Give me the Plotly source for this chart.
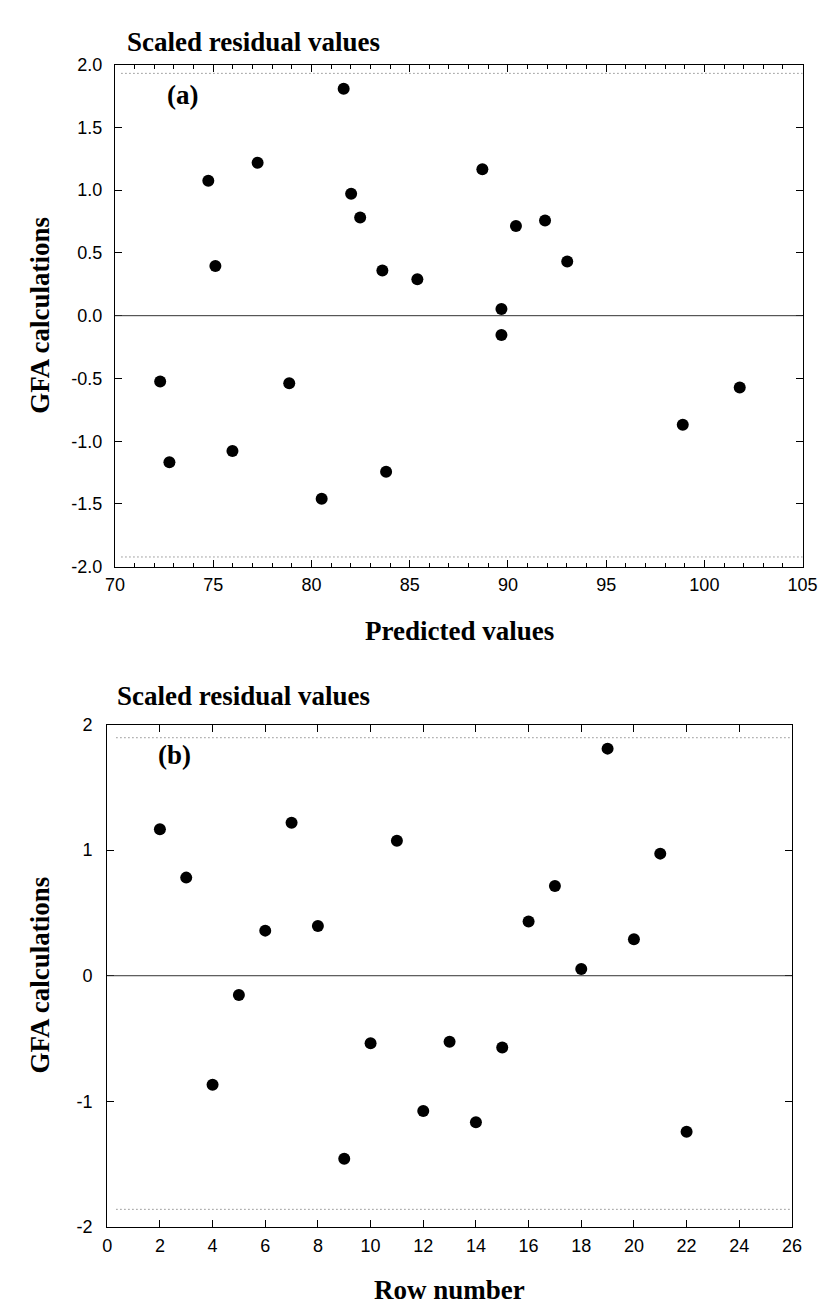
import plotly.graph_objects as go

# ---------------- data ----------------
# Panel (a): scaled residuals vs predicted values
pred_a = [88.70, 82.48, 98.90, 89.67, 83.61, 77.26, 75.11, 80.52, 78.87, 74.75, 75.98,
          72.30, 72.77, 101.80, 93.02, 90.41, 89.67, 81.64, 85.39, 82.02, 83.80, 91.89]
resid_a = [1.167, 0.781, -0.869, -0.153, 0.359, 1.218, 0.396, -1.458, -0.538, 1.074, -1.078,
           -0.525, -1.167, -0.572, 0.431, 0.715, 0.054, 1.808, 0.291, 0.972, -1.243, 0.758]

# Panel (b): scaled residuals vs row number
row_b = [2, 3, 4, 5, 6, 7, 8, 9, 10, 11, 12, 13, 14, 15, 16, 17, 18, 19, 20, 21, 22]
resid_b = [1.167, 0.781, -0.869, -0.153, 0.359, 1.218, 0.396, -1.458, -0.538, 1.074, -1.078,
           -0.525, -1.167, -0.572, 0.431, 0.715, 0.054, 1.808, 0.291, 0.972, -1.243]

# reference (dotted) limits
limits_a = [1.93, -1.922]
limits_b = [1.895, -1.86]

# tick labels
xticks_a = [70, 75, 80, 85, 90, 95, 100, 105]
yticks_a = [-2.0, -1.5, -1.0, -0.5, 0.0, 0.5, 1.0, 1.5, 2.0]
yticktext_a = ["-2.0", "-1.5", "-1.0", "-0.5", "0.0", "0.5", "1.0", "1.5", "2.0"]
xticks_b = [0, 2, 4, 6, 8, 10, 12, 14, 16, 18, 20, 22, 24, 26]
yticks_b = [-2, -1, 0, 1, 2]
yticktext_b = ["-2", "-1", "0", "1", "2"]

W, H = 829, 1307
SERIF = "Liberation Serif, Times New Roman, serif"
SANS = "Liberation Sans, Arial, sans-serif"

fig = go.Figure()
marker = dict(color="black", size=12, line=dict(width=0))
fig.add_trace(go.Scatter(x=pred_a, y=resid_a, mode="markers", marker=marker,
                         xaxis="x", yaxis="y", showlegend=False))
fig.add_trace(go.Scatter(x=row_b, y=resid_b, mode="markers", marker=marker,
                         xaxis="x2", yaxis="y2", showlegend=False))

axis_common = dict(showline=True, linecolor="black", linewidth=1.2, mirror="ticks",
                   ticks="inside", tickcolor="black", tickwidth=1, ticklen=7,
                   showgrid=False, zeroline=False,
                   tickfont=dict(family=SANS, size=18, color="black"))

def py(p):
    return 1 - p / H

fig.update_layout(
    width=W, height=H, margin=dict(l=0, r=0, t=0, b=0),
    paper_bgcolor="white", plot_bgcolor="white", showlegend=False,
    xaxis=dict(axis_common, domain=[100 / W, 809 / W], range=[70, 105], anchor="y",
               tickvals=xticks_a, ticklabelstandoff=2,
               minor=dict(dtick=1, ticks="inside", ticklen=4, tickcolor="black", tickwidth=1)),
    yaxis=dict(axis_common, domain=[py(557.3), py(47.3)], range=[-2, 2], anchor="x",
               tickvals=yticks_a, ticktext=yticktext_a, ticklabelstandoff=8),
    xaxis2=dict(axis_common, domain=[92 / W, 798 / W], range=[0, 26], anchor="y2",
                tickvals=xticks_b, ticklabelstandoff=2),
    yaxis2=dict(axis_common, domain=[py(1227.7), py(717.5)], range=[-2, 2], anchor="x2",
                tickvals=yticks_b, ticktext=yticktext_b, ticklabelstandoff=10),
)

# zero lines and dotted limits
for xr, yr, lims, x0 in (("x", "y", limits_a, 70.33), ("x2", "y2", limits_b, 0.35)):
    fig.add_shape(type="line", xref=xr + " domain", yref=yr, x0=0, x1=1, y0=0, y1=0,
                  line=dict(color="#333333", width=1))
    for v in lims:
        fig.add_shape(type="line", xref=xr, yref=yr, x0=x0, x1=(105 if xr == "x" else 26),
                      y0=v, y1=v, line=dict(color="#555555", width=1, dash="1px,3px"))

def ann(text, x, y, size=27, angle=0, xanchor="center"):
    fig.add_annotation(text=text, x=x / W, y=py(y), xref="paper", yref="paper",
                       showarrow=False, xanchor=xanchor, yanchor="middle", textangle=angle,
                       font=dict(family=SERIF, size=size, color="black"))

ann("<b>Scaled residual values</b>", 110, 24, xanchor="left")
ann("<b>(a)</b>", 169.5, 78)
ann("<b>GFA calculations</b>", 23, 302, angle=-90)
ann("<b>Predicted values</b>", 455, 623)

ann("<b>Scaled residual values</b>", 100, 689, xanchor="left")
ann("<b>(b)</b>", 161.7, 748)
ann("<b>GFA calculations</b>", 23, 972, angle=-90)
ann("<b>Row number</b>", 445, 1292)

fig.write_html("out.html")
